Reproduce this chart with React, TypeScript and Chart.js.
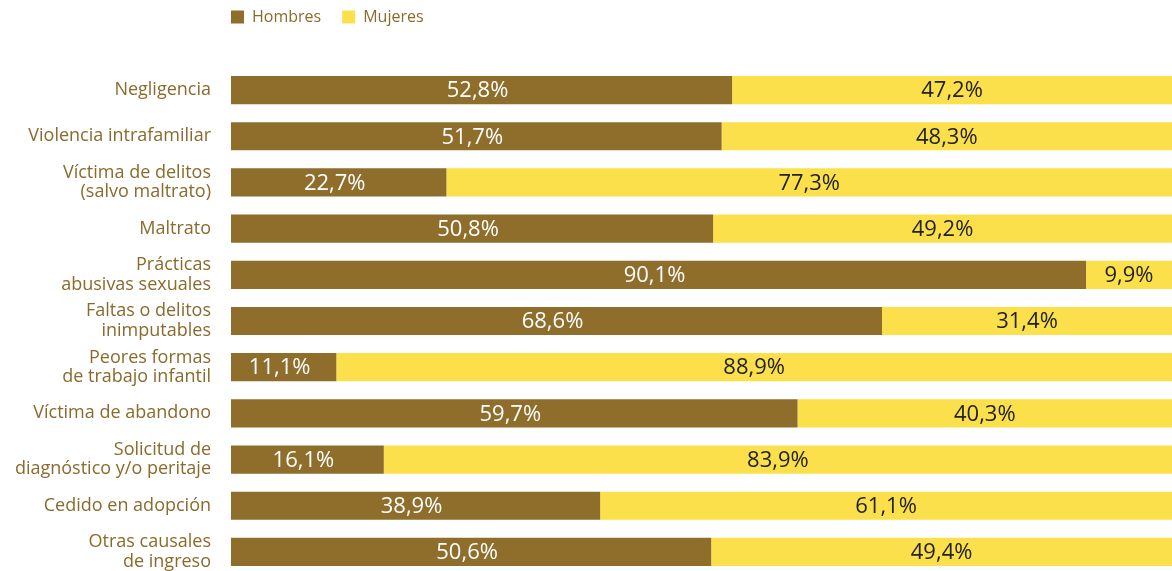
import React, { useEffect, useRef } from "react";
import { Chart, registerables } from "chart.js";

Chart.register(...registerables);

const categories: (string | string[])[] = [
  "Negligencia",
  "Violencia intrafamiliar",
  ["Víctima de delitos", "(salvo maltrato)"],
  "Maltrato",
  ["Prácticas", "abusivas sexuales"],
  ["Faltas o delitos", "inimputables"],
  ["Peores formas", "de trabajo infantil"],
  "Víctima de abandono",
  ["Solicitud de", "diagnóstico y/o peritaje"],
  "Cedido en adopción",
  ["Otras causales", "de ingreso"],
];

const hombres = [52.8, 51.7, 22.7, 50.8, 90.1, 68.6, 11.1, 59.7, 16.1, 38.9, 50.6];
const mujeres = [47.2, 48.3, 77.3, 49.2, 9.9, 31.4, 88.9, 40.3, 83.9, 61.1, 49.4];

const seriesNames = ["Hombres", "Mujeres"];
const BROWN = "#8F6E2C";
const YELLOW = "#FBE04B";
const TEXT = "#8B6A2B";
const FONT = "'Open Sans', 'Noto Sans', sans-serif";

const fmt = (v: number) => v.toFixed(1).replace(".", ",") + "%";

const valueLabels = {
  id: "valueLabels",
  afterDatasetsDraw(chart: any) {
    const ctx = chart.ctx;
    ctx.save();
    ctx.font = `22px ${FONT}`;
    ctx.textAlign = "center";
    ctx.textBaseline = "middle";
    chart.data.datasets.forEach((ds: any, di: number) => {
      const meta = chart.getDatasetMeta(di);
      meta.data.forEach((bar: any, i: number) => {
        const { x, y, base } = bar.getProps(["x", "y", "base"], true);
        const cx = (x + base) / 2 - 4;
        ctx.fillStyle = di === 0 ? "#ffffff" : "#222222";
        ctx.fillText(fmt(ds.data[i]), cx, y + 1);
      });
    });
    ctx.restore();
  },
};

const customLegend = {
  id: "customLegend",
  afterDraw(chart: any) {
    const ctx = chart.ctx;
    ctx.save();
    ctx.font = `16px ${FONT}`;
    ctx.textBaseline = "middle";
    ctx.textAlign = "left";
    let x = chart.chartArea.left;
    const y = 17;
    chart.data.datasets.forEach((ds: any) => {
      ctx.fillStyle = ds.backgroundColor;
      ctx.fillRect(x, y - 6.5, 13, 13);
      ctx.fillStyle = TEXT;
      ctx.fillText(ds.label, x + 21, y);
      x += 21 + ctx.measureText(ds.label).width + 21;
    });
    ctx.restore();
  },
};

export default function App() {
  const ref = useRef<HTMLCanvasElement>(null);
  useEffect(() => {
    document.body.style.margin = "0";
    const chart = new Chart(ref.current!, {
      type: "bar",
      data: {
        labels: categories,
        datasets: [
          { label: seriesNames[0], data: hombres, backgroundColor: BROWN },
          { label: seriesNames[1], data: mujeres, backgroundColor: YELLOW },
        ],
      },
      options: {
        indexAxis: "y",
        responsive: false,
        animation: false,
        layout: { padding: { top: 67, right: 0, bottom: 0, left: 0 } },
        datasets: { bar: { barPercentage: 0.61, categoryPercentage: 1, borderWidth: 0 } },
        plugins: {
          legend: { display: false },
          tooltip: { enabled: false },
        },
        scales: {
          x: { stacked: true, min: 0, max: 100, display: false },
          y: {
            stacked: true,
            grid: { display: false, drawTicks: false },
            border: { display: false },
            ticks: {
              color: TEXT,
              font: { family: FONT, size: 18, lineHeight: 1.07 },
              padding: 20,
              autoSkip: false,
            },
            afterFit(scale: any) {
              scale.width = 231;
              scale.paddingTop = 0;
              scale.paddingBottom = 0;
            },
          },
        },
      },
      plugins: [valueLabels, customLegend],
    });
    return () => chart.destroy();
  }, []);
  return (
    <div style={{ position: "fixed", left: 0, top: 0, width: 1172, height: 571, overflow: "hidden", background: "#fff" }}>
      <canvas ref={ref} width={1180} height={575} style={{ width: 1180, height: 575, display: "block" }} />
    </div>
  );
}
